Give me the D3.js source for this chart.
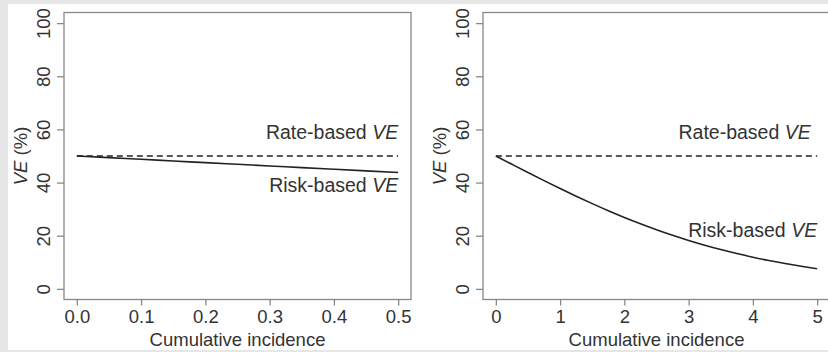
<!DOCTYPE html>
<html>
<head>
<meta charset="utf-8">
<script src="https://cdn.jsdelivr.net/npm/d3@7"></script>
<style>
  html, body { margin: 0; padding: 0; background: #e6e6e6; }
  svg { display: block; }
  text { font-family: "Liberation Sans", Arial, sans-serif; fill: #333; }
</style>
</head>
<body>
<svg id="chart" width="828" height="352"></svg>
<script>
// Cumulative incidence and vaccine efficacy (%) for each panel
const incidenceLeft = [0, 0.05, 0.1, 0.15, 0.2, 0.25, 0.3, 0.35, 0.4, 0.45, 0.5];
const riskVELeft    = [50, 49.38, 48.75, 48.13, 47.50, 46.88, 46.26, 45.64, 45.02, 44.40, 43.78];
const rateVELeft    = [50, 50];
const incidenceRight = [0, 0.25, 0.5, 0.75, 1, 1.25, 1.5, 1.75, 2, 2.25, 2.5, 2.75, 3, 3.25, 3.5, 3.75, 4, 4.25, 4.5, 4.75, 5];
const riskVERight    = [50, 46.88, 43.78, 40.73, 37.75, 34.86, 32.08, 29.42, 26.89, 24.51, 22.27, 20.18, 18.24, 16.45, 14.80, 13.29, 11.92, 10.67, 9.53, 8.51, 7.59];
const rateVERight    = [50, 50];
const xTicksLeft  = [0, 0.1, 0.2, 0.3, 0.4, 0.5];
const xTicksRight = [0, 1, 2, 3, 4, 5];
const yTicks      = [0, 20, 40, 60, 80, 100];

const svg = d3.select("#chart");
svg.append("rect").attr("x", 8).attr("y", 4).attr("width", 820).attr("height", 346).attr("fill", "#fff");

const axisColor = "#888";
const lineColor = "#222";
const axisFont = 18.5;
const labelFont = 19.5;

function panel(opts) {
  const { left, right, xDomain, xTicks, xFmt, xs, risk, rate, rateLabel, riskLabel } = opts;
  const top = 12.5, bottom = 299.5;
  const pad = (xDomain[1] - xDomain[0]) * 0.04;
  const x = d3.scaleLinear().domain([xDomain[0] - pad, xDomain[1] + pad]).range([left, right]);
  const y = d3.scaleLinear().domain([-4, 104]).range([bottom, top]);
  const g = svg.append("g");

  // plot frame
  g.append("rect").attr("x", left).attr("y", top).attr("width", right - left).attr("height", bottom - top)
    .attr("fill", "none").attr("stroke", axisColor).attr("stroke-width", 1.3);

  // y axis, labels rotated to read upward
  const ya = g.append("g").attr("transform", `translate(${left},0)`)
    .call(d3.axisLeft(y).tickValues(yTicks).tickSize(7).tickFormat(d3.format("d")));
  ya.select(".domain").remove();
  ya.selectAll("line").attr("stroke", axisColor).attr("stroke-width", 1.3);
  ya.selectAll("text").attr("font-size", axisFont).attr("fill", "#333")
    .attr("transform", "rotate(-90)").attr("x", 0).attr("y", -14.5).attr("dy", null)
    .attr("text-anchor", "middle");

  // x axis
  const xa = g.append("g").attr("transform", `translate(0,${bottom})`)
    .call(d3.axisBottom(x).tickValues(xTicks).tickSize(6).tickFormat(xFmt));
  xa.select(".domain").remove();
  xa.selectAll("line").attr("stroke", axisColor).attr("stroke-width", 1.3);
  xa.selectAll("text").attr("font-size", axisFont).attr("fill", "#333").attr("y", 23.5).attr("dy", null);

  // axis titles
  g.append("text").attr("x", (left + right) / 2).attr("y", 346).attr("text-anchor", "middle")
    .attr("font-size", axisFont).text("Cumulative incidence");
  const yt = g.append("text").attr("transform", `translate(${left - 37},${y(50)}) rotate(-90)`)
    .attr("text-anchor", "middle").attr("font-size", axisFont);
  yt.append("tspan").attr("font-style", "italic").text("VE");
  yt.append("tspan").text(" (%)");

  // rate-based (dashed) and risk-based (solid) curves
  const line = d3.line().x(d => x(d[0])).y(d => y(d[1])).curve(d3.curveMonotoneX);
  g.append("path").datum([[xDomain[0], rate[0]], [xDomain[1], rate[1]]])
    .attr("d", line).attr("fill", "none").attr("stroke", lineColor).attr("stroke-width", 1.4)
    .attr("stroke-dasharray", "6,4");
  g.append("path").datum(xs.map((v, i) => [v, risk[i]]))
    .attr("d", line).attr("fill", "none").attr("stroke", lineColor).attr("stroke-width", 1.6);

  // curve labels
  [rateLabel, riskLabel].forEach(l => {
    const t = g.append("text").attr("x", x(l.x)).attr("y", y(l.y)).attr("text-anchor", "end").attr("font-size", labelFont);
    t.append("tspan").text(l.text + " ");
    t.append("tspan").attr("font-style", "italic").text("VE");
  });
}

panel({
  left: 64, right: 411, xDomain: [0, 0.5], xTicks: xTicksLeft, xFmt: d3.format(".1f"),
  xs: incidenceLeft, risk: riskVELeft, rate: rateVELeft,
  rateLabel: { text: "Rate-based", x: 0.5, y: 56.5 },
  riskLabel: { text: "Risk-based", x: 0.5, y: 36.5 }
});
panel({
  left: 483, right: 830, xDomain: [0, 5], xTicks: xTicksRight, xFmt: d3.format("d"),
  xs: incidenceRight, risk: riskVERight, rate: rateVERight,
  rateLabel: { text: "Rate-based", x: 4.9, y: 56.5 },
  riskLabel: { text: "Risk-based", x: 5.0, y: 19.5 }
});
</script>
</body>
</html>
